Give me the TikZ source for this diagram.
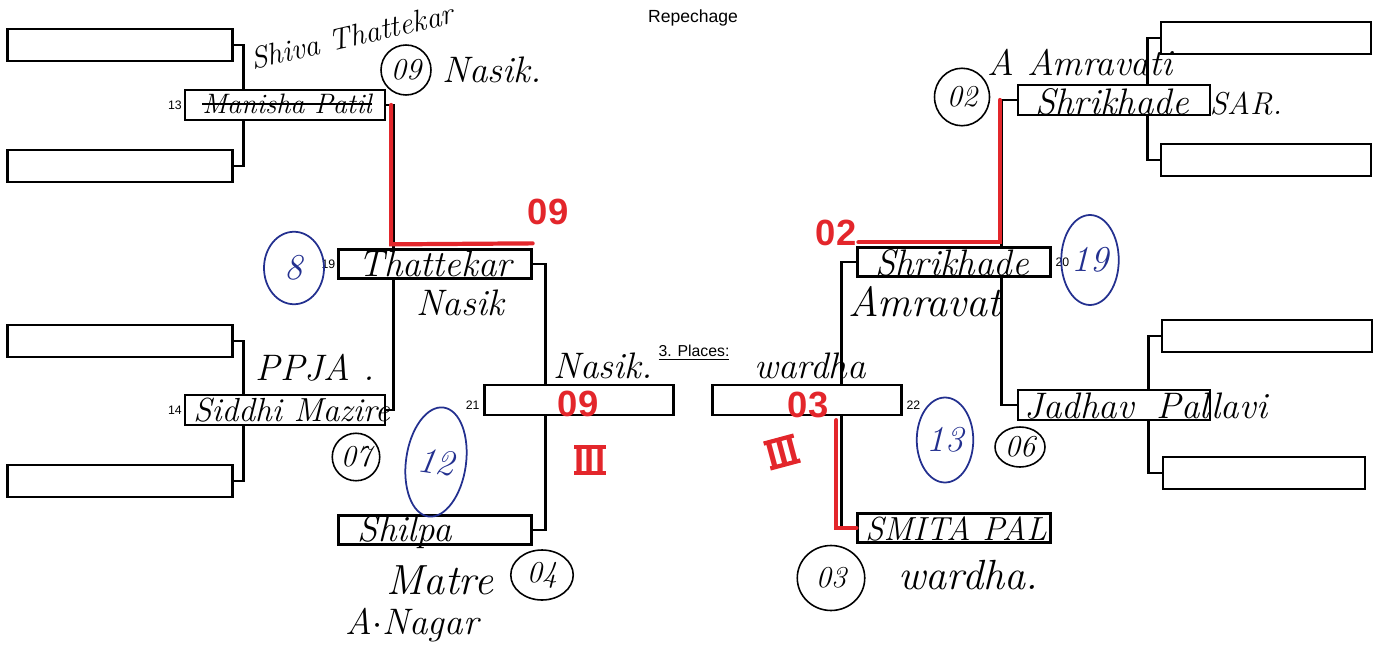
\documentclass[tikz,border=0pt]{standalone}
\usepackage{fontspec}
\setsansfont{Liberation Sans}
\usepackage{tikz}
\usetikzlibrary{positioning,calc,shapes.geometric,backgrounds}
\definecolor{penred}{HTML}{E3262B}
\definecolor{penblue}{HTML}{23308F}

\begin{document}
\begin{tikzpicture}[x=0.02cm, y=-0.02cm,
  slot/.style={rectangle, draw=black, line width=1.3pt, fill=white, minimum width=4.5cm, minimum height=0.64cm, inner sep=0pt},
  rslot/.style={slot, minimum width=4.2cm},
  seed/.style={slot, minimum width=4cm, minimum height=0.6cm},
  mid/.style={slot, minimum width=3.86cm, minimum height=0.58cm},
  bout/.style={slot, minimum width=3.78cm, minimum height=0.6cm},
  num/.style={font=\sffamily\scriptsize, inner sep=1pt},
  link/.style={line width=1.6pt, black},
  redlink/.style={line width=2.4pt, penred, line cap=round},
  hand/.style={font=\fontsize{18}{20}\selectfont\itshape, inner sep=0pt},
  midhand/.style={hand, font=\fontsize{21}{23}\selectfont\itshape},
  bighand/.style={hand, font=\fontsize{24}{26}\selectfont\itshape},
  redhand/.style={font=\huge\bfseries\sffamily, text=penred, inner sep=0pt},
  ring/.style={draw, ellipse, line width=0.9pt, font=\LARGE\itshape, inner sep=1pt},
  bluering/.style={ring, draw=penblue, text=penblue, line width=1pt, font=\huge\itshape}
]
% frame
\useasboundingbox (0,0) rectangle (1378,645);

\node[font=\sffamily] (title) at (693,18) {Repechage};
\node[font=\sffamily\small] (places) at (694,353) {\underline{3. Places:}};

% left half
\node[slot] (sA) at (120,45) {};
\node[slot] (sB) at (120,166) {};
\node[slot] (sC) at (120,341) {};
\node[slot] (sD) at (120,481) {};
\node[seed] (b13) at (285,105) {};
\node[seed] (b14) at (285,410) {};
\node[mid] (b19) at (435,264) {};
\node[mid] (bP) at (435,530) {};
\node[bout] (b21) at (579,400) {};
\node[num, left=0pt of b13] {13};
\node[num, left=0pt of b14] {14};
\node[num, left=0pt of b19] {19};
\node[num, left=1pt of b21, yshift=-3pt] {21};

% right half
\node[rslot] (sE) at (1266,38) {};
\node[rslot] (sF) at (1266,160) {};
\node[rslot] (sG) at (1267,336) {};
\node[rslot, minimum width=4.05cm] (sH) at (1264,473) {};
\node[seed, minimum width=3.84cm] (bS) at (1114,100) {};
\node[seed, minimum width=3.84cm] (bJ) at (1114,405) {};
\node[mid] (b20) at (954,262) {};
\node[mid] (bM) at (954,528) {};
\node[bout] (b22) at (807,400) {};
\node[num, right=1pt of b20] {20};
\node[num, right=1pt of b22, yshift=-3pt] {22};

% bracket lines
\begin{scope}[on background layer]
\draw[link] (sA.east) -- ++(10,0) |- (sB.east);
\draw[link] (sC.east) -- ++(10,0) |- (sD.east);
\draw[link] (b13.east) -- ++(7,0) coordinate (k13) -- (k13 |- b19.north);
\draw[link] (b14.east) -- ++(7,0) coordinate (k14) -- (k14 |- b19.south);
\draw[link] (b19.east) -- ++(13,0) coordinate (k19) -- (k19 |- b21.north);
\draw[link] (bP.east) -- ++(13,0) coordinate (kP) -- (kP |- b21.south);
\draw[link] (sE.west) -- ++(-12,0) |- (sF.west);
\draw[link] (sG.west) -- ++(-12,0) |- (sH.west);
\draw[link] (bS.west) -- ++(-15,0) coordinate (kS) -- (kS |- b20.north);
\draw[link] (bJ.west) -- ++(-15,0) coordinate (kJ) -- (kJ |- b20.south);
\draw[link] (b20.west) -- ++(-15,0) coordinate (k20) -- (k20 |- b22.north);
\draw[link] (bM.west) -- ++(-15,0) coordinate (kM) -- (kM |- b22.south);
\end{scope}

% red marks
\draw[redlink] ($(k13)+(-2,0)$) -- ($(k13 |- b19.north)+(-2,-4)$) -- ($(b19.north east)+(0,-5)$);
\draw[redlink] ($(kS)+(-2,0)$) -- ($(kS |- b20.north)+(-2,-4)$) -- ($(b20.north west)+(2,-4)$);
\draw[redlink] ($(kM |- b22.south)+(-5,4)$) -- ($(kM)+(-5,0)$) -- (bM.west);

% handwriting, left
\node[hand, font=\LARGE\itshape, rotate=13] (nShiva) at (352,36) {Shiva Thattekar};
\node[ring, circle, minimum size=1cm] (c09) at (406,70) {09};
\node[midhand] (nNasik1) at (492,70) {Nasik.};
\node[hand, font=\fontsize{16}{18}\selectfont\itshape] (n13) at (287,104) {Manisha Patil};
\draw[line width=0.8pt] (n13.west) -- (n13.east);
\node[redhand] (r09a) at (548,212) {09};
\node[bluering, minimum width=1.2cm, minimum height=1.45cm] (e8) at (294,268) {8};
\node[midhand] (n19) at (435,264) {Thattekar};
\node[midhand] (nNasik2) at (460,303) {Nasik};
\node[midhand] (nPPJA) at (315,368) {PPJA .};
\node[hand, font=\fontsize{19}{21}\selectfont\itshape, anchor=west] (n14) at (193,410) {Siddhi Mazire};
\node[ring, circle, minimum size=0.95cm] (c07) at (356,457) {07};
\node[bluering, minimum width=1.2cm, minimum height=2.2cm, rotate=-8] (e12) at (436,462) {12};
\node[midhand] (nNasik3) at (603,366) {Nasik.};
\node[redhand] (r09b) at (578,404) {09};
\node[redhand, font=\huge\bfseries\sffamily] (rIIIa) at (590,460) {III};
\draw[penred, line width=2.4pt] (rIIIa.north west) -- (rIIIa.north east);
\draw[penred, line width=2.4pt] (rIIIa.south west) -- (rIIIa.south east);
\node[midhand] (nP) at (405,532) {Shilpa};
\node[bighand] (nMatre) at (440,580) {Matre};
\node[ring, minimum width=1.25cm, minimum height=1cm] (c04) at (542,575) {04};
\node[midhand] (nNagar) at (412,625) {A$\cdot$Nagar};

% handwriting, right
\node[midhand] (nAmr1) at (1080,63) {A Amravati};
\node[ring, minimum width=1.1cm, minimum height=1.15cm] (c02) at (962,97) {02};
\node[midhand] (nS) at (1112,102) {Shrikhade};
\node[hand] (nSAR) at (1246,104) {SAR.};
\node[redhand] (r02) at (836,233) {02};
\node[midhand] (n20) at (952,263) {Shrikhade};
\node[bluering, minimum width=1.15cm, minimum height=1.8cm] (e19) at (1090,260) {19};
\node[bighand] (nAmr2) at (925,302) {Amravat};
\node[midhand] (nWardha1) at (810,366) {wardha};
\node[redhand] (r03) at (808,405) {03};
\node[redhand, font=\huge\bfseries\sffamily, rotate=15] (rIIIb) at (782,452) {III};
\draw[penred, line width=2.4pt] (rIIIb.north west) -- (rIIIb.north east);
\draw[penred, line width=2.4pt] (rIIIb.south west) -- (rIIIb.south east);
\node[bluering, minimum width=1.1cm, minimum height=1.7cm] (e13) at (945,440) {13};
\node[ring, minimum width=1cm, minimum height=0.8cm] (c06) at (1020,447) {06};
\node[midhand, anchor=west] (nJ) at (1024,406) {Jadhav\; Pallavi};
\node[hand, font=\fontsize{19}{21}\selectfont\itshape] (nM) at (956,529) {SMITA PAL};
\node[ring, minimum width=1.35cm, minimum height=1.3cm] (c03) at (831,578) {03};
\node[bighand] (nWardha2) at (968,575) {wardha.};
\end{tikzpicture}
\end{document}
